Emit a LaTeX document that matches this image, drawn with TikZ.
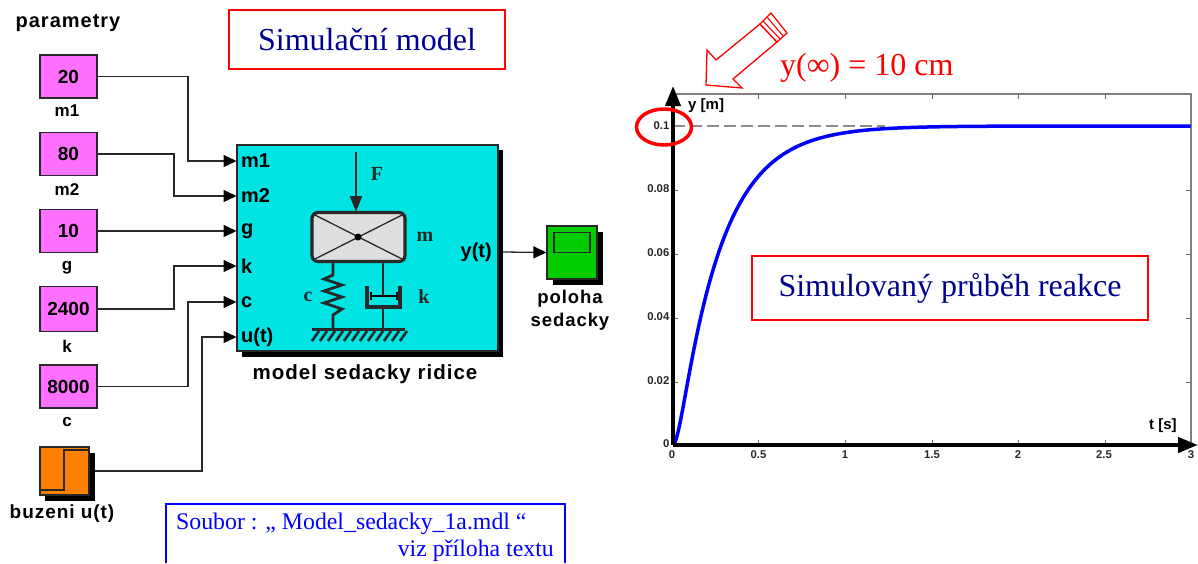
\documentclass[tikz,border=0pt]{standalone}
\usepackage{fontspec}
\setmainfont{Liberation Serif}
\newfontfamily\slfont[LetterSpace=5]{Liberation Sans}
\newfontfamily\blfont{Liberation Sans}
\usetikzlibrary{arrows.meta}
\definecolor{blockcyan}{HTML}{00E4E4}
\definecolor{blockpink}{HTML}{FF70FF}
\definecolor{blockorange}{HTML}{FF8000}
\definecolor{blockgreen}{HTML}{00CC00}
\definecolor{navytext}{HTML}{000090}
\definecolor{wirecol}{HTML}{282828}
\newcommand{\fs}[1]{\fontsize{#1}{#1}\selectfont}
\tikzset{
  konst/.style={draw=wirecol,line width=1.2pt,fill=blockpink,minimum width=57pt,minimum height=43pt,inner sep=0pt,font=\blfont\bfseries\fs{19}},
  blockcap/.style={inner sep=0pt,font=\blfont\bfseries\fs{17}},
  portlab/.style={inner sep=0pt,font=\blfont\bfseries\fs{20},anchor=west},
  wire/.style={draw=wirecol,line width=1.3pt},
  sig/.style={wire,-{Triangle[length=13pt,width=12pt,color=black]}},
  blockshade/.style={fill=black,draw=none},
  mech/.style={draw=wirecol,line width=2.8pt},
  mechthin/.style={draw=black,line width=1.4pt},
  mechlab/.style={inner sep=0pt,font=\bfseries\fs{20},text=wirecol},
  redbox/.style={draw=red,line width=1.3pt,fill=white,inner sep=0pt},
  ticklab/.style={inner sep=0pt,font=\blfont\bfseries\fs{11.3},text=black!85},
  tickmark/.style={draw=black!60,line width=0.9pt},
  axisline/.style={draw=black,line width=4pt,-{Triangle[length=20pt,width=15pt]}},
}
\begin{document}
\begin{tikzpicture}[x=1pt,y=-1pt]
\useasboundingbox (0,0) rectangle (1198,563);
\fill[white] (0,0) rectangle (1198,563);
% titles
\node[inner sep=0pt,font=\slfont\bfseries\fs{20}] (ptitle) at (68,23.5) {parametry};
\node[redbox,minimum width=276pt,minimum height=59pt,font=\fs{32},text=navytext] (simbox) at (367,39.5) {Simulační model};
% main block
\fill[blockshade] (242,150) rectangle (503,357);
\node[draw=wirecol,line width=1.2pt,fill=blockcyan,minimum width=261pt,minimum height=206pt,inner sep=0pt] (model) at (367.5,248) {};
\node[inner sep=0pt,font=\slfont\bfseries\fs{20.5}] (modelcap) at (365,374.5) {model sedacky ridice};
% constants
\node[konst] (c1) at (68.5,76.5) {20};
\node[konst] (c2) at (68.5,154) {80};
\node[konst] (c3) at (68.5,231) {10};
\node[konst,minimum height=45pt] (c4) at (68.5,309) {2400};
\node[konst] (c5) at (68.5,386.5) {8000};
\node[blockcap] at (67,111) {m1};
\node[blockcap] at (67,190) {m2};
\node[blockcap] at (67,268) {g};
\node[blockcap] at (67,346) {k};
\node[blockcap] at (67,422) {c};
% step source
\fill[blockshade] (45,453) rectangle (95,501);
\node[draw=wirecol,line width=1.2pt,fill=blockorange,minimum width=49pt,minimum height=48pt,inner sep=0pt] (stepsrc) at (64.5,471) {};
\draw[wirecol,line width=1.2pt] (40,490) -- (64,490) -- (64,450) -- (89,450);
\coordinate (stepout) at (95,471);
\node[inner sep=0pt,font=\slfont\bfseries\fs{19}] (stepcap) at (62,514) {buzeni u(t)};
% ports
\coordinate (p1) at (236.5,161); \coordinate (p2) at (236.5,196); \coordinate (p3) at (236.5,231);
\coordinate (p4) at (236.5,266); \coordinate (p5) at (236.5,302); \coordinate (p6) at (236.5,337);
\coordinate (v1) at (188,161); \coordinate (v2) at (174,196); \coordinate (v4) at (174,266);
\coordinate (v5) at (188,302); \coordinate (v6) at (202,337);
\draw[sig] (c1.east) -| (v1) -- (p1);
\draw[sig] (c2.east) -| (v2) -- (p2);
\draw[sig] (c3.east) -- (p3);
\draw[sig] (c4.east) -| (v4) -- (p4);
\draw[sig] (c5.east) -| (v5) -- (p5);
\draw[sig] (stepout) -| (v6) -- (p6);
\node[portlab] at (241,161) {m1};
\node[portlab] at (241,196) {m2};
\node[portlab] at (241,231) {g};
\node[portlab] at (241,266) {k};
\node[portlab] at (241,302) {c};
\node[portlab] at (241,337) {u(t)};
\node[portlab,anchor=east] at (492,252) {y(t)};
% mechanical sketch
\draw[mech] (333,262) -- (333,275) -- (324,279) -- (342,285) -- (324,291) -- (342,297) -- (324,303) -- (342,309) -- (333,315) -- (333,329);
\draw[mech] (383,262) -- (383,296);
\draw[mech] (383,307) -- (383,329);
\draw[mech,line width=3.2pt] (367,286) -- (367,307) -- (400,307) -- (400,286);
\draw[mechthin,line width=2.2pt] (371,296) -- (397,296);
\draw[mechthin] (371,292) -- (371,300);
\draw[mechthin] (397,292) -- (397,300);
\draw[mech,line width=3.2pt] (312,329.5) -- (405,329.5);
\foreach \hx in {319,327,...,407} \draw[draw=wirecol,line width=2.6pt] (\hx,331) -- (\hx-7,341);
\draw[mech,line width=3.2pt,fill=black!13,rounded corners=6pt] (312,212.5) rectangle (405,261.5);
\draw[wirecol,line width=1.3pt] (313,260) -- (404,214) (313,214) -- (404,260);
\fill[black] (358,237) circle (3.5);
\draw[draw=wirecol,line width=2.2pt,-{Triangle[length=16pt,width=12pt]}] (356,152) -- (356,212);
\node[mechlab] at (377,174) {F};
\node[mechlab] at (425,237) {m};
\node[mechlab] at (308,297) {c};
\node[mechlab] at (424,297) {k};
% scope
\fill[blockshade] (553,232) rectangle (603,285);
\node[draw=wirecol,line width=1.2pt,fill=blockgreen,minimum width=50pt,minimum height=53pt,inner sep=0pt] (scope) at (572,252.5) {};
\draw[wirecol,line width=1.2pt] (554,232.5) rectangle (590,252.5);
\coordinate (modelout) at (503,252);
\draw[sig] (modelout) -- (scope.west);
\node[inner sep=0pt,font=\slfont\bfseries\fs{18.5},align=center] (scopecap) at (570,310) {poloha\\[4pt]sedacky};
% file box
\draw[draw=blue,line width=1.3pt] (166,563) -- (166,504) -- (565,504) -- (565,563);
\node[inner sep=0pt,anchor=base west,font=\fs{23.8},text=blue] (filea) at (176,529) {Soubor : ,, Model\_sedacky\_1a.mdl “};
\node[inner sep=0pt,anchor=base east,font=\fs{23.8},text=blue] (fileb) at (554,556.5) {viz příloha textu};
% plot frame
\draw[draw=black!50,line width=1.1pt] (673,94) -- (1191,94) -- (1191,445);
\foreach \tx in {758.5,845,932,1018,1105} {
  \draw[tickmark] (\tx,94) -- (\tx,99);
  \draw[tickmark] (\tx,445) -- (\tx,440);
}
\foreach \ty in {126,190,254,318,382} {
  \draw[tickmark] (673,\ty) -- (678,\ty);
  \draw[tickmark] (1191,\ty) -- (1186,\ty);
}
\draw[draw=black!45,line width=1.3pt,dash pattern=on 12pt off 5pt] (673,126) -- (885,126);
\draw[draw=blue,line width=3.5pt,line join=round] plot[domain=0:3,samples=200] ({673+\x*172.7},{445-319*(1-1.14*exp(-4*\x)+0.14*exp(-32*\x))});
\coordinate (origin) at (673,445);
\coordinate (ytip) at (673,86);
\coordinate (xtip) at (1198,445);
\draw[axisline] (origin) -- (ytip);
\draw[axisline] (origin) -- (xtip);
\node[ticklab,anchor=east] at (669.5,126) {0.1};
\node[ticklab,anchor=east] at (669.5,189) {0.08};
\node[ticklab,anchor=east] at (669.5,253) {0.06};
\node[ticklab,anchor=east] at (669.5,317) {0.04};
\node[ticklab,anchor=east] at (669.5,381) {0.02};
\node[ticklab,anchor=east] at (669.5,444) {0};
\node[ticklab] at (672,455) {0};
\node[ticklab] at (758.5,455) {0.5};
\node[ticklab] at (845,455) {1};
\node[ticklab] at (932,455) {1.5};
\node[ticklab] at (1018,455) {2};
\node[ticklab] at (1104,455) {2.5};
\node[ticklab] at (1191,455) {3};
\node[inner sep=0pt,font=\blfont\bfseries\fs{15},anchor=west] at (688,106) {y [m]};
\node[inner sep=0pt,font=\blfont\bfseries\fs{15},anchor=west] at (1149,426) {t [s]};
\node[redbox,minimum width=396pt,minimum height=64pt,font=\fs{32},text=navytext] (respbox) at (950,288) {Simulovaný průběh reakce};
% annotation
\node[inner sep=0pt,anchor=base west,font=\fs{32},text=red] (yinf) at (780,75) {y(∞) = 10 cm};
\draw[draw=red,line width=1.3pt,fill=white,line join=miter] (706,85) -- (742,88) -- (733,79) -- (777,42) -- (760,24) -- (716,60) -- (707,50) -- cycle;
\draw[draw=red,line width=1.3pt,fill=white] (760,24) -- (771,13) -- (787,33) -- (777,42) -- cycle;
\draw[draw=red,line width=1.1pt] (763,21) -- (780,39) (767,17) -- (783,36);
\draw[draw=red,line width=3.5pt] (664,127) ellipse (27.5 and 18);
\end{tikzpicture}
\end{document}
